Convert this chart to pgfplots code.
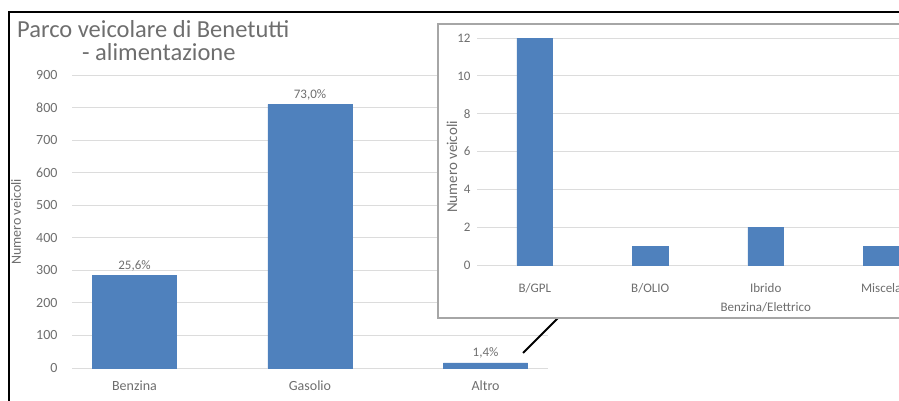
\documentclass[border=0pt]{standalone}
\usepackage{pgfplots}
\pgfplotsset{compat=1.18}
\usepackage{fontspec}
\setmainfont{Carlito}
\definecolor{barblue}{HTML}{4F81BD}
\definecolor{txtgray}{HTML}{6E6E6E}
\definecolor{gridgray}{HTML}{DCDCDC}
\definecolor{boxgray}{HTML}{A6A6A6}
\begin{document}
\begin{tikzpicture}
\useasboundingbox (0pt,0pt) rectangle (899pt,400pt);
\clip (0pt,0pt) rectangle (899pt,400pt);
% outer frame of the chart area
\draw[line width=2pt] (9pt,-10pt) -- (9pt,388pt) -- (920pt,388pt);
% title, two lines with the second one indented
\node[anchor=base west, text=txtgray, align=left, font=\fontsize{24.5}{22.5}\selectfont, inner sep=0pt] at (17pt,340pt)
  {Parco veicolare di Benetutti\\\hspace*{65pt}- alimentazione};
% main chart: vehicles by fuel type
\begin{axis}[
  at={(72pt,32pt)}, anchor=south west,
  scale only axis, width=476pt, height=293pt,
  xmin=-0.356, xmax=2.356, ymin=0, ymax=900,
  ytick={0,100,...,900},
  xtick={0,1,2}, xticklabels={Benzina,Gasolio,Altro},
  axis line style={draw=none}, major tick length=0pt,
  ymajorgrids, grid style={gridgray, line width=0.8pt},
  ticklabel style={text=txtgray, font=\fontsize{14}{16}\selectfont},
  yticklabel style={xshift=-11pt},
  xticklabel style={yshift=-9pt},
  /pgf/number format/assume math mode=true,
  clip=false,
]
\addplot[ybar, bar width=0.48, fill=barblue, draw=barblue,
  point meta=explicit symbolic,
  nodes near coords, nodes near coords style={text=txtgray, font=\fontsize{13}{15}\selectfont, yshift=1pt}]
  coordinates {(0,284) [{25,6\%}] (1,810) [{73,0\%}] (2,16) [{1,4\%}]};
\end{axis}
\node[rotate=90, text=txtgray, font=\fontsize{14}{16}\selectfont] at (16pt,178pt) {Numero veicoli};
% connector between the "Altro" bar and its breakdown
\draw[line width=2pt] (523pt,47pt) -- (575pt,99pt);
% inset box
\filldraw[fill=white, draw=boxgray, line width=1.2pt] (438pt,82pt) rectangle (930pt,376pt);
% breakdown of "Altro"
\begin{axis}[
  at={(477pt,135pt)}, anchor=south west,
  scale only axis, width=462pt, height=227pt,
  xmin=-0.5, xmax=3.5, ymin=0, ymax=12,
  ytick={0,2,...,12},
  xtick={0,1,2,3},
  xticklabels={B/GPL,B/OLIO,{Ibrido\\Benzina/Elettrico},Miscela},
  xticklabel style={align=center, yshift=-15pt},
  axis line style={draw=none}, major tick length=0pt,
  ymajorgrids, grid style={gridgray, line width=0.8pt},
  ticklabel style={text=txtgray, font=\fontsize{13}{19}\selectfont},
  yticklabel style={xshift=-3pt},
  /pgf/number format/assume math mode=true,
  clip=false,
]
\addplot[ybar, bar width=0.31, fill=barblue, draw=barblue]
  coordinates {(0,12) (1,1) (2,2) (3,1)};
\end{axis}
\node[rotate=90, text=txtgray, font=\fontsize{15}{17}\selectfont] at (452pt,233pt) {Numero veicoli};
\end{tikzpicture}
\end{document}
